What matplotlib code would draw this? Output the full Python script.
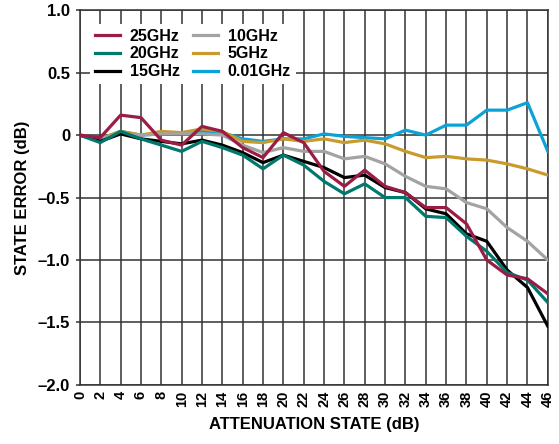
import matplotlib
matplotlib.use("Agg")
import matplotlib.pyplot as plt

plt.rcParams['font.family'] = ['Liberation Sans', 'DejaVu Sans']
plt.rcParams['font.weight'] = 'bold'

# attenuation states (dB)
atten = list(range(0, 48, 2))

# state error (dB) per frequency
err_25g = [0.00, -0.02, 0.16, 0.14, -0.04, -0.08, 0.07, 0.03, -0.10, -0.18, 0.02, -0.06,
           -0.29, -0.41, -0.28, -0.41, -0.46, -0.58, -0.58, -0.71, -1.00, -1.12, -1.15, -1.27]
err_20g = [0.00, -0.06, 0.03, -0.03, -0.08, -0.13, -0.05, -0.10, -0.16, -0.27, -0.16, -0.24,
           -0.37, -0.47, -0.39, -0.50, -0.50, -0.65, -0.66, -0.81, -0.93, -1.10, -1.16, -1.34]
err_15g = [0.00, -0.05, 0.01, -0.03, -0.05, -0.07, -0.04, -0.08, -0.14, -0.22, -0.16, -0.21,
           -0.26, -0.34, -0.32, -0.42, -0.46, -0.59, -0.63, -0.79, -0.85, -1.08, -1.22, -1.53]
err_10g = [0.00, -0.03, 0.01, 0.00, 0.01, 0.01, 0.01, 0.00, -0.08, -0.14, -0.10, -0.13,
           -0.13, -0.19, -0.17, -0.23, -0.33, -0.41, -0.43, -0.54, -0.59, -0.74, -0.85, -1.00]
err_5g = [0.00, -0.03, 0.03, 0.00, 0.03, 0.02, 0.05, 0.03, -0.05, -0.06, -0.03, -0.05,
          -0.03, -0.06, -0.04, -0.07, -0.13, -0.18, -0.17, -0.19, -0.20, -0.23, -0.27, -0.32]
err_001g = [0.00, -0.03, 0.03, 0.00, 0.01, 0.02, 0.03, 0.02, -0.03, -0.05, -0.03, -0.03,
            0.01, -0.01, -0.02, -0.03, 0.04, 0.00, 0.08, 0.08, 0.20, 0.20, 0.26, -0.13]

series = [
    ("25GHz", err_25g, "#9b1c45"),
    ("20GHz", err_20g, "#00786e"),
    ("15GHz", err_15g, "#000000"),
    ("10GHz", err_10g, "#a3a3a3"),
    ("5GHz", err_5g, "#c99a2e"),
    ("0.01GHz", err_001g, "#0aa3d8"),
]

fig = plt.figure(figsize=(5.59, 4.44), dpi=100)
ax = fig.add_axes([0.143, 0.133, 0.837, 0.844])

# draw so that 25GHz ends up on top, like the reference
handles = {}
for i in [5, 4, 3, 2, 1, 0]:
    name, vals, col = series[i]
    h, = ax.plot(atten, vals, color=col, lw=2.3, label=name, zorder=3 + (5 - i) * 0.1)
    handles[i] = h

ax.set_xlim(0, 46)
ax.set_ylim(-2.0, 1.0)
ax.set_xticks(atten)
ax.set_xticklabels([str(a) for a in atten], rotation=90, fontsize=10.5, fontweight='bold')
ax.set_yticks([1.0, 0.5, 0, -0.5, -1.0, -1.5, -2.0])
ax.set_yticklabels(["1.0", "0.5", "0", "–0.5", "–1.0", "–1.5", "–2.0"], fontsize=12,
                   fontweight='bold')
ax.tick_params(axis='x', length=0, pad=4)
ax.tick_params(axis='y', length=3, width=1.1, color='#333333', pad=4)
ax.grid(True, color='#333333', lw=1.1)
ax.set_axisbelow(True)
for s in ax.spines.values():
    s.set_color('#333333')
    s.set_linewidth(1.1)

ax.set_xlabel("ATTENUATION STATE (dB)", fontsize=12, fontweight='bold', labelpad=7)
ax.set_ylabel("STATE ERROR (dB)", fontsize=12, fontweight='bold', labelpad=6)

leg = ax.legend([handles[i] for i in range(6)], [s[0] for s in series], ncol=2,
                loc='upper left', bbox_to_anchor=(0.004, 0.985), frameon=True,
                fancybox=False, edgecolor='none', facecolor='white', framealpha=1,
                prop={'weight': 'bold', 'size': 11.5}, handlelength=1.6,
                handletextpad=0.6, columnspacing=0.8, labelspacing=0.18,
                borderpad=0.3)
leg.set_zorder(10)

fig.savefig("out.png", dpi=100)
